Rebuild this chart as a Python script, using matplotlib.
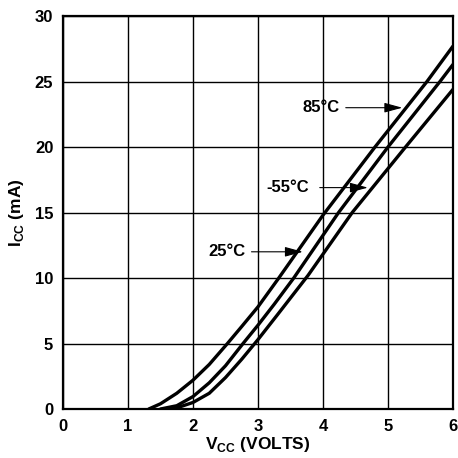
import numpy as np
import matplotlib
matplotlib.use("Agg")
import matplotlib.pyplot as plt

plt.rcParams['font.family'] = ['Liberation Sans', 'DejaVu Sans']
plt.rcParams['font.weight'] = 'bold'
plt.rcParams['mathtext.fontset'] = 'custom'
plt.rcParams['mathtext.bf'] = 'Liberation Sans:bold'
plt.rcParams['mathtext.rm'] = 'Liberation Sans:bold'

# supply current vs supply voltage
vcc_top = [1.32, 1.5, 1.75, 2.0, 2.25, 2.53, 2.75, 3.0, 3.32, 4.0, 4.8, 5.6, 6.0]
icc_top = [0.0, 0.4, 1.2, 2.2, 3.4, 5.0, 6.3, 7.8, 10.0, 14.8, 20.0, 25.0, 27.7]

vcc_mid = [1.5, 1.75, 2.0, 2.25, 2.5, 2.77, 3.0, 3.25, 3.55, 4.24, 5.0, 5.8, 6.0]
icc_mid = [0.0, 0.25, 0.95, 2.0, 3.3, 5.0, 6.4, 8.0, 10.0, 15.0, 20.0, 25.0, 26.3]

vcc_bot = [1.7, 2.0, 2.25, 2.5, 2.75, 3.0, 3.3, 3.77, 4.45, 5.27, 6.0]
icc_bot = [0.0, 0.5, 1.2, 2.4, 3.8, 5.3, 7.2, 10.2, 15.0, 20.0, 24.4]

x_ticks = [0, 1, 2, 3, 4, 5, 6]
y_ticks = [0, 5, 10, 15, 20, 25, 30]

# label, text position, arrow start, arrow tip
temp_labels = [
    ("85°C", (3.97, 23.0), (4.35, 23.0), (5.22, 23.0)),
    ("-55°C", (3.46, 16.9), (3.95, 16.9), (4.69, 16.9)),
    ("25°C", (2.52, 12.0), (2.90, 12.0), (3.69, 12.0)),
]

fig = plt.figure(figsize=(4.58, 4.58), dpi=100)
ax = fig.add_axes([63/458, 49/458, 390/458, 393/458])

for xs, ys in [(vcc_top, icc_top), (vcc_mid, icc_mid), (vcc_bot, icc_bot)]:
    ax.plot(xs, ys, color='k', lw=2.4, solid_capstyle='round',
            solid_joinstyle='round', zorder=3)

for lab, tpos, start, tip in temp_labels:
    ax.text(tpos[0], tpos[1], lab, ha='center', va='center', fontsize=12,
            fontweight='bold', zorder=4)
    ax.annotate('', xy=tip, xytext=start,
                arrowprops=dict(arrowstyle='-|>,head_length=1.1,head_width=0.3',
                                lw=0.8, color='k', shrinkA=0, shrinkB=0),
                zorder=4)

ax.set_xlim(0, 6)
ax.set_ylim(0, 30)
ax.set_xticks(x_ticks)
ax.set_yticks(y_ticks)
ax.tick_params(length=0, labelsize=12, pad=7)
for t in ax.get_xticklabels() + ax.get_yticklabels():
    t.set_fontweight('bold')
ax.grid(True, color='k', lw=1.0)
ax.set_axisbelow(True)
for s in ax.spines.values():
    s.set_linewidth(1.6)

ax.set_xlabel(r'V$_{\mathbf{CC}}$ (VOLTS)', fontsize=12.5, fontweight='bold')
ax.set_ylabel(r'I$_{\mathbf{CC}}$ (mA)', fontsize=12.5, fontweight='bold')
ax.xaxis.set_label_coords(0.5, -0.066)
ax.yaxis.set_label_coords(-0.095, 0.5)

fig.savefig('out.png', dpi=100)
